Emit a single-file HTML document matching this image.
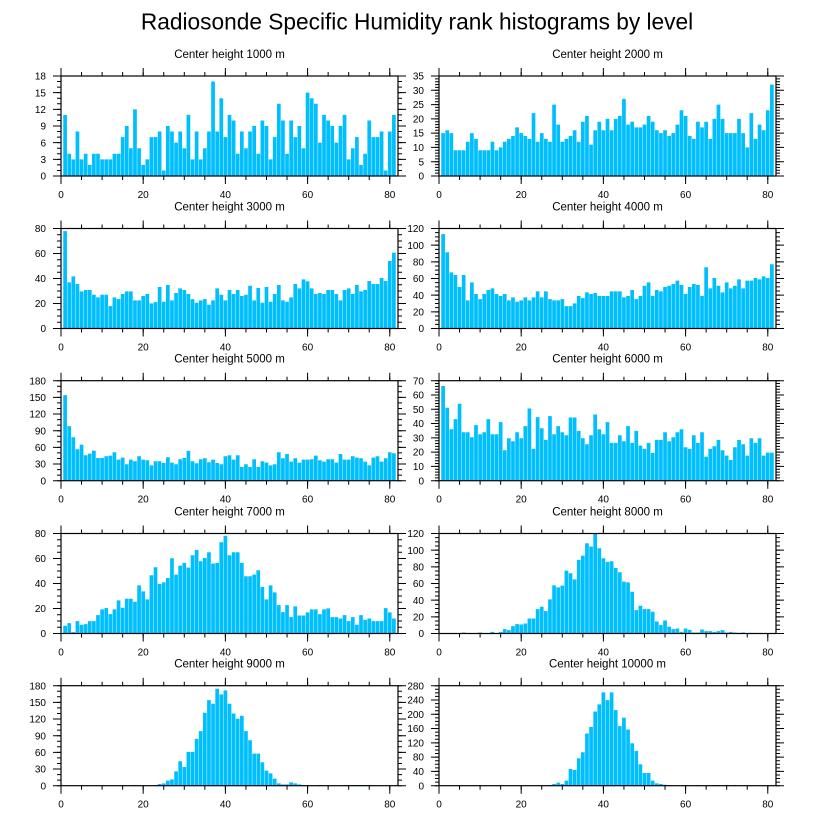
<!DOCTYPE html>
<html><head><meta charset="utf-8">
<style>
html,body{margin:0;padding:0;background:#fff;}
svg{display:block;font-family:"Liberation Sans",Arial,sans-serif;}
.f{fill:none;stroke:#000;stroke-width:1.2}
.mj{stroke:#000;stroke-width:8}
.mn{stroke:#000;stroke-width:4}
.b{fill:none;stroke:#00bfff;stroke-width:0.9}
.yl{font-size:10px;text-anchor:end}
.xl{font-size:10px;text-anchor:middle}
.pt{font-size:11.5px;text-anchor:middle}
</style></head><body>
<svg width="816" height="824" viewBox="0 0 816 824">
<rect width="816" height="824" fill="#fff"/>
<defs><g id="xt">
<line class="mj" x1="-0.5" y1="104" x2="337.5" y2="104" stroke-dasharray="1 81.195"/>
<line class="mn" x1="-0.5" y1="102" x2="337.5" y2="102" stroke-dasharray="1 19.549"/>
<line class="mj" x1="-0.5" y1="-4" x2="337.5" y2="-4" stroke-dasharray="1 81.195"/>
<line class="mn" x1="-0.5" y1="-2" x2="337.5" y2="-2" stroke-dasharray="1 19.549"/>
</g></defs>
<text x="417" y="29.5" font-size="22.7" text-anchor="middle">Radiosonde Specific Humidity rank histograms by level</text>

<!-- P1 -->
<g transform="translate(61,76)">
<svg width="337" height="100" viewBox="0 0 82 18" preserveAspectRatio="none"><path class="b" transform="matrix(1 0 0 -1 0 18)" d="M1 0V11M2 0V4M3 0V3M4 0V8M5 0V3M6 0V4M7 0V2M8 0V4M9 0V4M10 0V3M11 0V3M12 0V3M13 0V4M14 0V4M15 0V7M16 0V9M17 0V5M18 0V12M19 0V5M20 0V2M21 0V3M22 0V7M23 0V7M24 0V8M25 0V1M26 0V9M27 0V8M28 0V6M29 0V8M30 0V5M31 0V11M32 0V3M33 0V8M34 0V3M35 0V5M36 0V8M37 0V17M38 0V8M39 0V14M40 0V7M41 0V11M42 0V10M43 0V4M44 0V8M45 0V5M46 0V8M47 0V9M48 0V4M49 0V10M50 0V9M51 0V3M52 0V7M53 0V13M54 0V10M55 0V4M56 0V10M57 0V7M58 0V9M59 0V5M60 0V15M61 0V14M62 0V13M63 0V6M64 0V11M65 0V10M66 0V9M67 0V6M68 0V9M69 0V11M70 0V3M71 0V5M72 0V7M73 0V2M74 0V4M75 0V10M76 0V7M77 0V7M78 0V8M79 0V1M80 0V8M81 0V11"/></svg>
<rect class="f" width="337" height="100"/>
<use href="#xt"/>
<line class="mj" x1="-4" y1="100.5" x2="-4" y2="-0.5" stroke-dasharray="1 15.667"/>
<line class="mn" x1="-2" y1="100.5" x2="-2" y2="-0.5" stroke-dasharray="1 4.556"/>
<line class="mj" x1="341" y1="100.5" x2="341" y2="-0.5" stroke-dasharray="1 15.667"/>
<line class="mn" x1="339" y1="100.5" x2="339" y2="-0.5" stroke-dasharray="1 4.556"/>
<text class="pt" x="168.5" y="-18">Center height 1000 m</text>
<text class="yl" x="-15" y="103.6">0</text><text class="yl" x="-15" y="86.9">3</text><text class="yl" x="-15" y="70.3">6</text><text class="yl" x="-15" y="53.6">9</text><text class="yl" x="-15" y="36.9">12</text><text class="yl" x="-15" y="20.3">15</text><text class="yl" x="-15" y="3.6">18</text>
<text class="xl" x="0" y="122">0</text><text class="xl" x="82.2" y="122">20</text><text class="xl" x="164.4" y="122">40</text><text class="xl" x="246.6" y="122">60</text><text class="xl" x="328.8" y="122">80</text>
</g>

<!-- P2 -->
<g transform="translate(439,76)">
<svg width="337" height="100" viewBox="0 0 82 35" preserveAspectRatio="none"><path class="b" transform="matrix(1 0 0 -1 0 35)" d="M1 0V15M2 0V16M3 0V15M4 0V9M5 0V9M6 0V9M7 0V12M8 0V15M9 0V13M10 0V9M11 0V9M12 0V9M13 0V12M14 0V9M15 0V10M16 0V12M17 0V13M18 0V14M19 0V17M20 0V15M21 0V14M22 0V13M23 0V22M24 0V12M25 0V15M26 0V13M27 0V12M28 0V25M29 0V18M30 0V12M31 0V13M32 0V14M33 0V16M34 0V12M35 0V19M36 0V21M37 0V11M38 0V16M39 0V19M40 0V16M41 0V20M42 0V16M43 0V20M44 0V21M45 0V27M46 0V18M47 0V19M48 0V17M49 0V17M50 0V18M51 0V21M52 0V19M53 0V16M54 0V15M55 0V16M56 0V14M57 0V15M58 0V18M59 0V23M60 0V21M61 0V14M62 0V13M63 0V19M64 0V17M65 0V19M66 0V13M67 0V20M68 0V25M69 0V20M70 0V15M71 0V15M72 0V15M73 0V20M74 0V15M75 0V10M76 0V22M77 0V13M78 0V18M79 0V16M80 0V23M81 0V32"/></svg>
<rect class="f" width="337" height="100"/>
<use href="#xt"/>
<line class="mj" x1="-4" y1="100.5" x2="-4" y2="-0.5" stroke-dasharray="1 13.286"/>
<line class="mn" x1="-2" y1="100.5" x2="-2" y2="-0.5" stroke-dasharray="1 1.857"/>
<line class="mj" x1="341" y1="100.5" x2="341" y2="-0.5" stroke-dasharray="1 13.286"/>
<line class="mn" x1="339" y1="100.5" x2="339" y2="-0.5" stroke-dasharray="1 1.857"/>
<text class="pt" x="168.5" y="-18">Center height 2000 m</text>
<text class="yl" x="-15" y="103.6">0</text><text class="yl" x="-15" y="89.3">5</text><text class="yl" x="-15" y="75">10</text><text class="yl" x="-15" y="60.7">15</text><text class="yl" x="-15" y="46.5">20</text><text class="yl" x="-15" y="32.2">25</text><text class="yl" x="-15" y="17.9">30</text><text class="yl" x="-15" y="3.6">35</text>
<text class="xl" x="0" y="122">0</text><text class="xl" x="82.2" y="122">20</text><text class="xl" x="164.4" y="122">40</text><text class="xl" x="246.6" y="122">60</text><text class="xl" x="328.8" y="122">80</text>
</g>

<!-- P3 -->
<g transform="translate(61,228.5)">
<svg width="337" height="100" viewBox="0 14 82 299" preserveAspectRatio="none"><path class="b" d="M1 313V22M2 313V175M3 313V157M4 313V180M5 313V202M6 313V198M7 313V198M8 313V212M9 313V220M10 313V212M11 313V212M12 313V246M13 313V220M14 313V225M15 313V210M16 313V202M17 313V202M18 313V229M19 313V229M20 313V216M21 313V210M22 313V238M23 313V234M24 313V189M25 313V233M26 313V183M27 313V229M28 313V207M29 313V193M30 313V198M31 313V210M32 313V225M33 313V236M34 313V229M35 313V225M36 313V242M37 313V229M38 313V193M39 313V212M40 313V229M41 313V198M42 313V210M43 313V198M44 313V216M45 313V212M46 313V185M47 313V229M48 313V192M49 313V236M50 313V189M51 313V233M52 313V210M53 313V183M54 313V229M55 313V233M56 313V220M57 313V180M58 313V193M59 313V166M60 313V172M61 313V193M62 313V210M63 313V207M64 313V210M65 313V198M66 313V198M67 313V210M68 313V229M69 313V198M70 313V193M71 313V210M72 313V183M73 313V202M74 313V198M75 313V171M76 313V180M77 313V180M78 313V162M79 313V171M80 313V111M81 313V86"/></svg>
<rect class="f" width="337" height="100"/>
<use href="#xt"/>
<line class="mj" x1="-4" y1="100.5" x2="-4" y2="-0.5" stroke-dasharray="1 24"/>
<line class="mn" x1="-2" y1="100.5" x2="-2" y2="-0.5" stroke-dasharray="1 5.25"/>
<line class="mj" x1="341" y1="100.5" x2="341" y2="-0.5" stroke-dasharray="1 24"/>
<line class="mn" x1="339" y1="100.5" x2="339" y2="-0.5" stroke-dasharray="1 5.25"/>
<text class="pt" x="168.5" y="-18">Center height 3000 m</text>
<text class="yl" x="-15" y="103.6">0</text><text class="yl" x="-15" y="78.6">20</text><text class="yl" x="-15" y="53.6">40</text><text class="yl" x="-15" y="28.6">60</text><text class="yl" x="-15" y="3.6">80</text>
<text class="xl" x="0" y="122">0</text><text class="xl" x="82.2" y="122">20</text><text class="xl" x="164.4" y="122">40</text><text class="xl" x="246.6" y="122">60</text><text class="xl" x="328.8" y="122">80</text>
</g>

<!-- P4 -->
<g transform="translate(439,228.5)">
<svg width="337" height="100" viewBox="0 14 82 299" preserveAspectRatio="none"><path class="b" d="M1 313V31M2 313V85M3 313V145M4 313V153M5 313V189M6 313V153M7 313V229M8 313V175M9 313V210M10 313V225M11 313V210M12 313V198M13 313V193M14 313V210M15 313V216M16 313V210M17 313V229M18 313V220M19 313V233M20 313V229M21 313V220M22 313V229M23 313V220M24 313V202M25 313V220M26 313V202M27 313V225M28 313V229M29 313V229M30 313V225M31 313V246M32 313V246M33 313V238M34 313V216M35 313V222M36 313V205M37 313V210M38 313V207M39 313V216M40 313V216M41 313V216M42 313V202M43 313V202M44 313V202M45 313V220M46 313V216M47 313V198M48 313V225M49 313V216M50 313V185M51 313V175M52 313V216M53 313V198M54 313V202M55 313V189M56 313V185M57 313V180M58 313V170M59 313V183M60 313V210M61 313V189M62 313V180M63 313V183M64 313V216M65 313V130M66 313V193M67 313V162M68 313V185M69 313V205M70 313V175M71 313V193M72 313V185M73 313V166M74 313V193M75 313V170M76 313V170M77 313V162M78 313V166M79 313V157M80 313V162M81 313V121"/></svg>
<rect class="f" width="337" height="100"/>
<use href="#xt"/>
<line class="mj" x1="-4" y1="100.5" x2="-4" y2="-0.5" stroke-dasharray="1 15.667"/>
<line class="mn" x1="-2" y1="100.5" x2="-2" y2="-0.5" stroke-dasharray="1 3.167"/>
<line class="mj" x1="341" y1="100.5" x2="341" y2="-0.5" stroke-dasharray="1 15.667"/>
<line class="mn" x1="339" y1="100.5" x2="339" y2="-0.5" stroke-dasharray="1 3.167"/>
<text class="pt" x="168.5" y="-18">Center height 4000 m</text>
<text class="yl" x="-15" y="103.6">0</text><text class="yl" x="-15" y="86.9">20</text><text class="yl" x="-15" y="70.3">40</text><text class="yl" x="-15" y="53.6">60</text><text class="yl" x="-15" y="36.9">80</text><text class="yl" x="-15" y="20.3">100</text><text class="yl" x="-15" y="3.6">120</text>
<text class="xl" x="0" y="122">0</text><text class="xl" x="82.2" y="122">20</text><text class="xl" x="164.4" y="122">40</text><text class="xl" x="246.6" y="122">60</text><text class="xl" x="328.8" y="122">80</text>
</g>

<!-- P5 -->
<g transform="translate(61,380.7)">
<svg width="337" height="100" viewBox="0 14 82 299" preserveAspectRatio="none"><path class="b" d="M1 313V57M2 313V150M3 313V183M4 313V219M5 313V205M6 313V237M7 313V232M8 313V223M9 313V245M10 313V245M11 313V240M12 313V238M13 313V228M14 313V250M15 313V244M16 313V264M17 313V250M18 313V255M19 313V240M20 313V250M21 313V252M22 313V267M23 313V255M24 313V255M25 313V260M26 313V243M27 313V259M28 313V264M29 313V249M30 313V245M31 313V224M32 313V255M33 313V261M34 313V249M35 313V246M36 313V258M37 313V250M38 313V260M39 313V264M40 313V240M41 313V237M42 313V250M43 313V237M44 313V272M45 313V264M46 313V272M47 313V249M48 313V272M49 313V255M50 313V259M51 313V267M52 313V264M53 313V228M54 313V246M55 313V233M56 313V256M57 313V246M58 313V259M59 313V250M60 313V250M61 313V249M62 313V238M63 313V252M64 313V256M65 313V249M66 313V249M67 313V259M68 313V233M69 313V250M70 313V250M71 313V240M72 313V244M73 313V246M74 313V256M75 313V267M76 313V244M77 313V240M78 313V256M79 313V246M80 313V228M81 313V231"/></svg>
<rect class="f" width="337" height="100"/>
<use href="#xt"/>
<line class="mj" x1="-4" y1="100.5" x2="-4" y2="-0.5" stroke-dasharray="1 15.667"/>
<line class="mn" x1="-2" y1="100.5" x2="-2" y2="-0.5" stroke-dasharray="1 4.556"/>
<line class="mj" x1="341" y1="100.5" x2="341" y2="-0.5" stroke-dasharray="1 15.667"/>
<line class="mn" x1="339" y1="100.5" x2="339" y2="-0.5" stroke-dasharray="1 4.556"/>
<text class="pt" x="168.5" y="-18">Center height 5000 m</text>
<text class="yl" x="-15" y="103.6">0</text><text class="yl" x="-15" y="86.9">30</text><text class="yl" x="-15" y="70.3">60</text><text class="yl" x="-15" y="53.6">90</text><text class="yl" x="-15" y="36.9">120</text><text class="yl" x="-15" y="20.3">150</text><text class="yl" x="-15" y="3.6">180</text>
<text class="xl" x="0" y="122">0</text><text class="xl" x="82.2" y="122">20</text><text class="xl" x="164.4" y="122">40</text><text class="xl" x="246.6" y="122">60</text><text class="xl" x="328.8" y="122">80</text>
</g>

<!-- P6 -->
<g transform="translate(439,380.7)">
<svg width="337" height="100" viewBox="0 14 82 299" preserveAspectRatio="none"><path class="b" d="M1 313V30M2 313V95M3 313V159M4 313V129M5 313V83M6 313V168M7 313V168M8 313V183M9 313V147M10 313V174M11 313V168M12 313V129M13 313V174M14 313V174M15 313V138M16 313V222M17 313V186M18 313V195M19 313V168M20 313V186M21 313V150M22 313V97M23 313V218M24 313V123M25 313V156M26 313V191M27 313V120M28 313V174M29 313V150M30 313V168M31 313V177M32 313V124M33 313V124M34 313V164M35 313V186M36 313V204M37 313V177M38 313V115M39 313V159M40 313V174M41 313V138M42 313V200M43 313V200M44 313V177M45 313V195M46 313V150M47 313V200M48 313V164M49 313V208M50 313V218M51 313V200M52 313V230M53 313V191M54 313V191M55 313V168M56 313V195M57 313V183M58 313V168M59 313V159M60 313V213M61 313V218M62 313V177M63 313V200M64 313V168M65 313V241M66 313V218M67 313V210M68 313V191M69 313V222M70 313V238M71 313V251M72 313V213M73 313V191M74 313V204M75 313V238M76 313V186M77 313V200M78 313V186M79 313V238M80 313V229M81 313V229"/></svg>
<rect class="f" width="337" height="100"/>
<use href="#xt"/>
<line class="mj" x1="-4" y1="100.5" x2="-4" y2="-0.5" stroke-dasharray="1 13.286"/>
<line class="mn" x1="-2" y1="100.5" x2="-2" y2="-0.5" stroke-dasharray="1 1.857"/>
<line class="mj" x1="341" y1="100.5" x2="341" y2="-0.5" stroke-dasharray="1 13.286"/>
<line class="mn" x1="339" y1="100.5" x2="339" y2="-0.5" stroke-dasharray="1 1.857"/>
<text class="pt" x="168.5" y="-18">Center height 6000 m</text>
<text class="yl" x="-15" y="103.6">0</text><text class="yl" x="-15" y="89.3">10</text><text class="yl" x="-15" y="75">20</text><text class="yl" x="-15" y="60.7">30</text><text class="yl" x="-15" y="46.5">40</text><text class="yl" x="-15" y="32.2">50</text><text class="yl" x="-15" y="17.9">60</text><text class="yl" x="-15" y="3.6">70</text>
<text class="xl" x="0" y="122">0</text><text class="xl" x="82.2" y="122">20</text><text class="xl" x="164.4" y="122">40</text><text class="xl" x="246.6" y="122">60</text><text class="xl" x="328.8" y="122">80</text>
</g>

<!-- P7 -->
<g transform="translate(61,533.5)">
<svg width="337" height="100" viewBox="0 14 82 299" preserveAspectRatio="none"><path class="b" d="M1 313V290M2 313V282M3 313V309M4 313V276M5 313V287M6 313V285M7 313V276M8 313V276M9 313V258M10 313V241M11 313V237M12 313V255M13 313V241M14 313V214M15 313V236M16 313V209M17 313V209M18 313V218M19 313V169M20 313V187M21 313V211M22 313V139M23 313V115M24 313V165M25 313V160M26 313V147M27 313V88M28 313V137M29 313V110M30 313V102M31 313V116M32 313V79M33 313V63M34 313V97M35 313V87M36 313V70M37 313V104M38 313V102M39 313V40M40 313V21M41 313V79M42 313V70M43 313V70M44 313V102M45 313V142M46 313V142M47 313V137M48 313V124M49 313V174M50 313V211M51 313V169M52 313V190M53 313V228M54 313V249M55 313V228M56 313V264M57 313V232M58 313V259M59 313V259M60 313V250M61 313V241M62 313V241M63 313V255M64 313V241M65 313V238M66 313V264M67 313V264M68 313V268M69 313V258M70 313V276M71 313V264M72 313V287M73 313V258M74 313V272M75 313V268M76 313V276M77 313V276M78 313V276M79 313V237M80 313V250M81 313V268"/></svg>
<rect class="f" width="337" height="100"/>
<use href="#xt"/>
<line class="mj" x1="-4" y1="100.5" x2="-4" y2="-0.5" stroke-dasharray="1 24"/>
<line class="mn" x1="-2" y1="100.5" x2="-2" y2="-0.5" stroke-dasharray="1 5.25"/>
<line class="mj" x1="341" y1="100.5" x2="341" y2="-0.5" stroke-dasharray="1 24"/>
<line class="mn" x1="339" y1="100.5" x2="339" y2="-0.5" stroke-dasharray="1 5.25"/>
<text class="pt" x="168.5" y="-18">Center height 7000 m</text>
<text class="yl" x="-15" y="103.6">0</text><text class="yl" x="-15" y="78.6">20</text><text class="yl" x="-15" y="53.6">40</text><text class="yl" x="-15" y="28.6">60</text><text class="yl" x="-15" y="3.6">80</text>
<text class="xl" x="0" y="122">0</text><text class="xl" x="82.2" y="122">20</text><text class="xl" x="164.4" y="122">40</text><text class="xl" x="246.6" y="122">60</text><text class="xl" x="328.8" y="122">80</text>
</g>

<!-- P8 -->
<g transform="translate(439,533.5)">
<svg width="337" height="100" viewBox="0 14 82 299" preserveAspectRatio="none"><path class="b" d="M6 313V310M10 313V310M13 313V308M15 313V308M16 313V300M17 313V303M18 313V291M19 313V285M20 313V286M21 313V283M22 313V268M23 313V268M24 313V240M25 313V233M26 313V246M27 313V211M28 313V169M29 313V175M30 313V170M31 313V125M32 313V133M33 313V151M34 313V93M35 313V80M36 313V43M37 313V53M38 313V14M39 313V58M40 313V88M41 313V99M42 313V97M43 313V117M44 313V130M45 313V158M46 313V160M47 313V188M48 313V243M49 313V230M50 313V240M51 313V240M52 313V248M53 313V277M54 313V288M55 313V274M56 313V293M57 313V300M58 313V298M59 313V308M60 313V298M61 313V302M62 313V310M63 313V310M64 313V301M65 313V306M66 313V306M67 313V308M68 313V306M69 313V303M70 313V310M71 313V308M72 313V310M73 313V311M74 313V310M76 313V311"/></svg>
<rect class="f" width="337" height="100"/>
<use href="#xt"/>
<line class="mj" x1="-4" y1="100.5" x2="-4" y2="-0.5" stroke-dasharray="1 15.667"/>
<line class="mn" x1="-2" y1="100.5" x2="-2" y2="-0.5" stroke-dasharray="1 3.167"/>
<line class="mj" x1="341" y1="100.5" x2="341" y2="-0.5" stroke-dasharray="1 15.667"/>
<line class="mn" x1="339" y1="100.5" x2="339" y2="-0.5" stroke-dasharray="1 3.167"/>
<text class="pt" x="168.5" y="-18">Center height 8000 m</text>
<text class="yl" x="-15" y="103.6">0</text><text class="yl" x="-15" y="86.9">20</text><text class="yl" x="-15" y="70.3">40</text><text class="yl" x="-15" y="53.6">60</text><text class="yl" x="-15" y="36.9">80</text><text class="yl" x="-15" y="20.3">100</text><text class="yl" x="-15" y="3.6">120</text>
<text class="xl" x="0" y="122">0</text><text class="xl" x="82.2" y="122">20</text><text class="xl" x="164.4" y="122">40</text><text class="xl" x="246.6" y="122">60</text><text class="xl" x="328.8" y="122">80</text>
</g>

<!-- P9 -->
<g transform="translate(61,685.7)">
<svg width="337" height="100" viewBox="0 14 82 299" preserveAspectRatio="none"><path class="b" d="M18 313V311M23 313V311M24 313V308M25 313V306M26 313V298M27 313V294M28 313V270M29 313V240M30 313V257M31 313V212M32 313V212M33 313V173M34 313V150M35 313V95M36 313V57M37 313V68M38 313V23M39 313V40M40 313V28M41 313V68M42 313V97M43 313V113M44 313V104M45 313V150M46 313V177M47 313V217M48 313V217M49 313V243M50 313V268M51 313V276M52 313V292M53 313V306M54 313V309M55 313V309M56 313V303M57 313V306M58 313V309M59 313V311M60 313V311M63 313V311M69 313V311M70 313V311M71 313V311M72 313V311M73 313V311M74 313V311M75 313V311"/></svg>
<rect class="f" width="337" height="100"/>
<use href="#xt"/>
<line class="mj" x1="-4" y1="100.5" x2="-4" y2="-0.5" stroke-dasharray="1 15.667"/>
<line class="mn" x1="-2" y1="100.5" x2="-2" y2="-0.5" stroke-dasharray="1 4.556"/>
<line class="mj" x1="341" y1="100.5" x2="341" y2="-0.5" stroke-dasharray="1 15.667"/>
<line class="mn" x1="339" y1="100.5" x2="339" y2="-0.5" stroke-dasharray="1 4.556"/>
<text class="pt" x="168.5" y="-18">Center height 9000 m</text>
<text class="yl" x="-15" y="103.6">0</text><text class="yl" x="-15" y="86.9">30</text><text class="yl" x="-15" y="70.3">60</text><text class="yl" x="-15" y="53.6">90</text><text class="yl" x="-15" y="36.9">120</text><text class="yl" x="-15" y="20.3">150</text><text class="yl" x="-15" y="3.6">180</text>
<text class="xl" x="0" y="122">0</text><text class="xl" x="82.2" y="122">20</text><text class="xl" x="164.4" y="122">40</text><text class="xl" x="246.6" y="122">60</text><text class="xl" x="328.8" y="122">80</text>
</g>

<!-- P10 -->
<g transform="translate(439,685.7)">
<svg width="337" height="100" viewBox="0 14 82 299" preserveAspectRatio="none"><path class="b" d="M27 313V311M28 313V308M29 313V304M30 313V308M31 313V298M32 313V263M33 313V266M34 313V231M35 313V213M36 313V157M37 313V137M38 313V91M39 313V70M40 313V34M41 313V57M42 313V34M43 313V87M44 313V135M45 313V110M46 313V145M47 313V186M48 313V209M49 313V249M50 313V275M51 313V275M52 313V298M53 313V306M54 313V308M55 313V310M56 313V311M60 313V311M63 313V311M67 313V311M68 313V311M70 313V311M72 313V311"/></svg>
<rect class="f" width="337" height="100"/>
<use href="#xt"/>
<line class="mj" x1="-4" y1="100.5" x2="-4" y2="-0.5" stroke-dasharray="1 13.286"/>
<line class="mn" x1="-2" y1="100.5" x2="-2" y2="-0.5" stroke-dasharray="1 2.571"/>
<line class="mj" x1="341" y1="100.5" x2="341" y2="-0.5" stroke-dasharray="1 13.286"/>
<line class="mn" x1="339" y1="100.5" x2="339" y2="-0.5" stroke-dasharray="1 2.571"/>
<text class="pt" x="168.5" y="-18">Center height 10000 m</text>
<text class="yl" x="-15" y="103.6">0</text><text class="yl" x="-15" y="89.3">40</text><text class="yl" x="-15" y="75">80</text><text class="yl" x="-15" y="60.7">120</text><text class="yl" x="-15" y="46.5">160</text><text class="yl" x="-15" y="32.2">200</text><text class="yl" x="-15" y="17.9">240</text><text class="yl" x="-15" y="3.6">280</text>
<text class="xl" x="0" y="122">0</text><text class="xl" x="82.2" y="122">20</text><text class="xl" x="164.4" y="122">40</text><text class="xl" x="246.6" y="122">60</text><text class="xl" x="328.8" y="122">80</text>
</g>
</svg>
</body></html>
